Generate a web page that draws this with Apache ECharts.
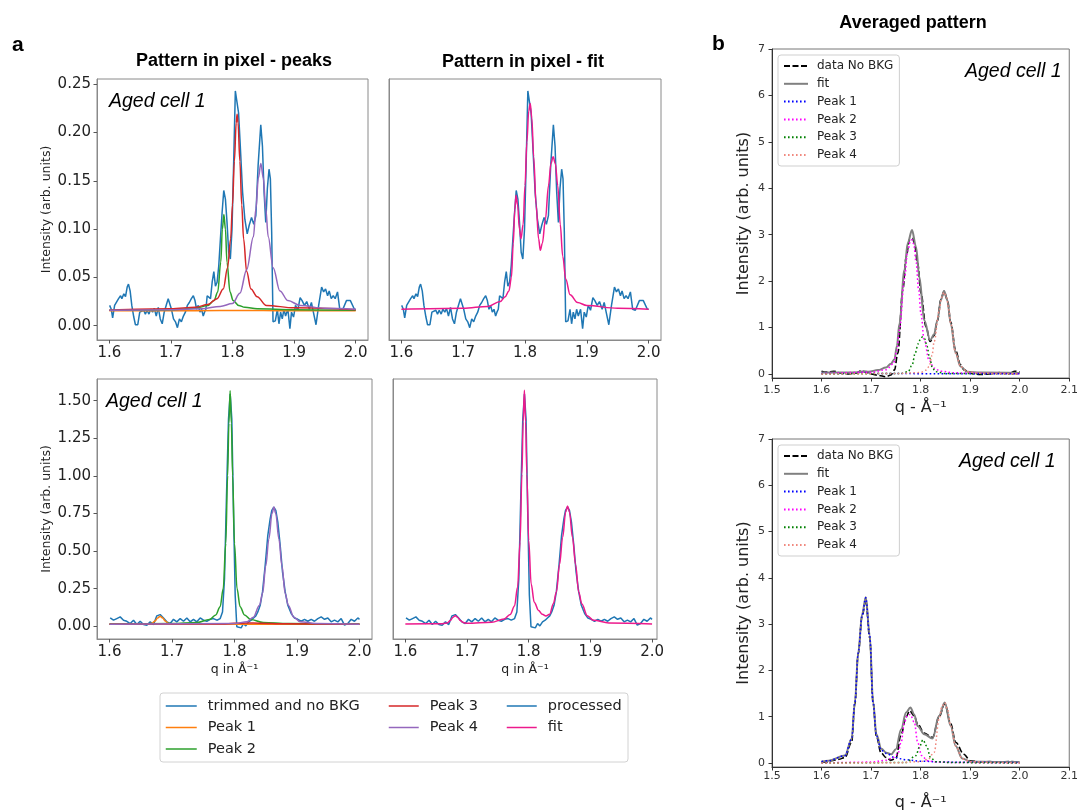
<!DOCTYPE html>
<html><head><meta charset="utf-8">
<script src="https://cdn.jsdelivr.net/npm/echarts/dist/echarts.min.js"></script>
<style>html,body{margin:0;padding:0;background:#fff}#c{width:1081px;height:812px}</style>
</head><body><div id="c"></div>
<script>
// ---------- Panel a, top row (Pattern in pixel) ----------
const qTop = [1.6005,1.6032,1.6054,1.6086,1.6118,1.6150,1.6183,1.6204,1.6236,1.6263,1.6290,1.6311,1.6338,1.6365,1.6397,1.6424,1.6462,1.6494,1.6526,1.6558,1.6585,1.6612,1.6644,1.6671,1.6703,1.6730,1.6762,1.6795,1.6827,1.6859,1.6891,1.6923,1.6956,1.6988,1.7009,1.7042,1.7074,1.7106,1.7138,1.7170,1.7203,1.7235,1.7267,1.7299,1.7332,1.7364,1.7391,1.7417,1.7444,1.7471,1.7498,1.7525,1.7546,1.7568,1.7589,1.7616,1.7643,1.7670,1.7697,1.7723,1.7750,1.7777,1.7804,1.7831,1.7858,1.7885,1.7911,1.7938,1.7965,1.7992,1.8019,1.8046,1.8078,1.8099,1.8121,1.8164,1.8201,1.8239,1.8271,1.8309,1.8346,1.8379,1.8416,1.8459,1.8486,1.8513,1.8540,1.8566,1.8593,1.8615,1.8636,1.8658,1.8695,1.8728,1.8754,1.8781,1.8808,1.8835,1.8862,1.8899,1.8932,1.8958,1.8991,1.9023,1.9060,1.9098,1.9130,1.9168,1.9205,1.9248,1.9281,1.9313,1.9356,1.9399,1.9447,1.9479,1.9511,1.9544,1.9570,1.9603,1.9635,1.9667,1.9705,1.9742,1.9785,1.9812,1.9850,1.9882,1.9914,1.9946,1.9979,2.0000];
const iTop = [0.021,0.017,0.008,0.021,0.019,0.028,0.031,0.028,0.033,0.030,0.040,0.043,0.036,0.021,0.009,0.001,0.001,0.014,0.012,0.016,0.012,0.016,0.012,0.017,0.014,0.018,0.010,0.019,0.007,0.002,0.014,0.021,0.028,0.030,0.017,0.007,0.004,-0.002,0.007,0.004,0.010,0.014,0.021,0.024,0.028,0.031,0.026,0.017,0.021,0.014,0.017,0.010,0.014,0.017,0.031,0.033,0.028,0.045,0.056,0.041,0.045,0.062,0.090,0.117,0.140,0.131,0.107,0.076,0.069,0.100,0.169,0.243,0.243,0.220,0.193,0.138,0.110,0.095,0.104,0.112,0.105,0.114,0.166,0.208,0.186,0.138,0.107,0.142,0.162,0.152,0.097,0.004,0.005,0.017,0.002,0.014,0.007,0.017,0.010,0.017,-0.003,0.014,0.009,0.021,0.016,0.029,0.026,0.021,0.025,0.017,0.024,0.014,0.001,0.021,0.040,0.035,0.038,0.031,0.036,0.028,0.031,0.028,0.035,0.017,0.016,0.014,0.026,0.024,0.026,0.024,0.017,0.017];

const qP1t = [1.60,1.70,1.78,1.80,1.85,1.90,2.00];
const iP1t = [0.0155,0.0155,0.0157,0.0158,0.0157,0.0155,0.0155];
const qP2t = [1.60,1.70,1.74,1.76,1.77,1.776,1.781,1.7835,1.786,1.7885,1.791,1.796,1.801,1.81,1.82,1.84,1.90,2.00];
const iP2t = [0.016,0.0165,0.018,0.021,0.026,0.035,0.066,0.100,0.115,0.100,0.066,0.035,0.026,0.021,0.019,0.0175,0.0165,0.016];
const qP3t = [1.60,1.70,1.74,1.76,1.775,1.785,1.792,1.797,1.80,1.803,1.806,1.8075,1.809,1.812,1.815,1.818,1.823,1.83,1.84,1.855,1.90,2.00];
const iP3t = [0.016,0.0175,0.019,0.022,0.028,0.038,0.060,0.090,0.125,0.170,0.210,0.219,0.210,0.170,0.125,0.090,0.056,0.038,0.030,0.021,0.0185,0.0165];
const qP4t = [1.60,1.70,1.75,1.78,1.80,1.812,1.823,1.834,1.838,1.842,1.846,1.850,1.854,1.858,1.866,1.877,1.89,1.91,1.95,2.00];
const iP4t = [0.016,0.0165,0.0175,0.020,0.023,0.0335,0.058,0.092,0.121,0.153,0.168,0.153,0.121,0.092,0.060,0.036,0.026,0.021,0.018,0.017];
const qFitT = [1.60,1.70,1.74,1.76,1.768,1.774,1.778,1.781,1.7835,1.7855,1.788,1.791,1.7935,1.797,1.80,1.803,1.806,1.8085,1.811,1.814,1.818,1.822,1.8248,1.828,1.833,1.838,1.842,1.8455,1.849,1.853,1.857,1.861,1.866,1.873,1.885,1.90,1.95,2.00];
const iFitT = [0.017,0.018,0.020,0.025,0.030,0.036,0.050,0.085,0.120,0.135,0.125,0.100,0.090,0.105,0.145,0.190,0.222,0.230,0.215,0.175,0.125,0.090,0.078,0.085,0.110,0.145,0.168,0.175,0.168,0.145,0.105,0.072,0.048,0.032,0.024,0.021,0.018,0.017];

// ---------- Panel a, bottom row ----------
const qBot = [1.6011,1.6064,1.6117,1.6171,1.6224,1.6277,1.6331,1.6384,1.6437,1.6491,1.6544,1.6597,1.6651,1.6704,1.6757,1.6811,1.6864,1.6917,1.6971,1.7024,1.7077,1.7131,1.7184,1.7237,1.7291,1.7344,1.7397,1.7451,1.7504,1.7557,1.7611,1.7664,1.7717,1.7771,1.7808,1.7840,1.7872,1.7904,1.7931,1.7957,1.7984,1.8011,1.8037,1.8064,1.8107,1.8144,1.8181,1.8224,1.8267,1.8304,1.8341,1.8373,1.8411,1.8448,1.8491,1.8533,1.8571,1.8597,1.8629,1.8661,1.8693,1.8731,1.8768,1.8811,1.8853,1.8907,1.8960,1.9013,1.9067,1.9120,1.9173,1.9227,1.9280,1.9333,1.9387,1.9440,1.9493,1.9547,1.9600,1.9653,1.9707,1.9760,1.9813,1.9867,1.9920,1.9973,2.0000];
const iBot = [0.055,0.040,0.051,0.062,0.040,0.033,0.018,0.040,0.011,0.033,0.011,0.007,0.029,0.011,0.069,0.077,0.055,0.029,0.018,0.046,0.029,0.051,0.033,0.055,0.029,0.046,0.029,0.055,0.040,0.033,0.046,0.051,0.040,0.051,0.095,0.316,0.869,1.378,1.544,1.378,0.759,0.206,-0.004,0.007,-0.011,0.018,0.002,0.029,0.040,0.055,0.069,0.095,0.139,0.228,0.405,0.604,0.715,0.770,0.792,0.770,0.692,0.538,0.361,0.228,0.139,0.084,0.055,0.046,0.033,0.046,0.033,0.046,0.033,0.051,0.062,0.046,0.055,0.029,0.040,0.029,0.051,0.007,0.018,0.046,0.033,0.055,0.046];

const qP1b = [1.60,1.66,1.668,1.673,1.677,1.681,1.685,1.689,1.694,1.70,2.00];
const iP1b = [0.013,0.014,0.020,0.035,0.055,0.066,0.055,0.035,0.020,0.014,0.013];
const qP2b = [1.60,1.70,1.74,1.76,1.77,1.777,1.782,1.786,1.789,1.791,1.793,1.795,1.797,1.800,1.804,1.809,1.816,1.826,1.846,1.886,2.00];
const iP2b = [0.014,0.018,0.025,0.045,0.075,0.13,0.25,0.55,1.00,1.35,1.566,1.35,1.00,0.55,0.25,0.13,0.075,0.045,0.025,0.018,0.014];
const qP3b = [1.60,1.78,1.80,1.82,1.84,1.88,2.00];
const iP3b = [0.013,0.015,0.019,0.022,0.020,0.016,0.013];
const qP4b = [1.60,1.80,1.82,1.83,1.84,1.845,1.85,1.855,1.86,1.863,1.866,1.871,1.876,1.881,1.886,1.895,1.905,1.93,2.00];
const iP4b = [0.013,0.018,0.030,0.060,0.140,0.220,0.400,0.580,0.750,0.792,0.750,0.580,0.400,0.220,0.140,0.060,0.030,0.018,0.013];
const qFitB = [1.60,1.66,1.668,1.673,1.677,1.681,1.685,1.689,1.694,1.70,1.74,1.76,1.77,1.777,1.782,1.786,1.789,1.791,1.793,1.795,1.797,1.800,1.804,1.809,1.816,1.822,1.828,1.834,1.84,1.845,1.85,1.855,1.86,1.863,1.866,1.871,1.876,1.881,1.886,1.895,1.905,1.93,2.00];
const iFitB = [0.015,0.017,0.022,0.038,0.058,0.070,0.058,0.038,0.024,0.019,0.026,0.048,0.078,0.135,0.26,0.56,1.01,1.36,1.57,1.36,1.01,0.57,0.28,0.16,0.105,0.080,0.068,0.080,0.15,0.23,0.41,0.59,0.76,0.80,0.76,0.59,0.41,0.23,0.15,0.07,0.04,0.022,0.015];

// ---------- Panel b, top (Averaged pattern) ----------
const q5Data = [1.60,1.61,1.625,1.64,1.655,1.67,1.68,1.69,1.70,1.715,1.73,1.74,1.7473,1.754,1.764,1.771,1.7773,1.784,1.7873,1.794,1.8007,1.8107,1.8193,1.827,1.834,1.8407,1.8473,1.854,1.8607,1.8707,1.8807,1.8873,1.90,1.92,1.94,1.96,1.98,1.99,2.00];
const i5Data = [0.06,0.04,0.06,0.02,0.0,0.02,0.07,0.04,0.0,-0.03,-0.06,-0.02,0.09,0.45,1.81,2.53,2.89,2.92,2.82,2.39,1.74,1.02,0.70,0.83,1.15,1.6,1.78,1.6,1.12,0.5,0.2,0.09,0.02,-0.01,0.0,0.03,0.02,0.06,0.04];
const q5Fit = [1.60,1.647,1.675,1.685,1.695,1.714,1.73,1.74,1.7473,1.752,1.7573,1.7673,1.774,1.7826,1.7907,1.7973,1.8073,1.8193,1.827,1.834,1.8407,1.8473,1.854,1.8607,1.8707,1.8807,1.894,1.92,2.00];
const i5Fit = [0.03,0.03,0.04,0.06,0.05,0.085,0.14,0.22,0.32,0.6,1.09,2.24,2.82,3.10,2.74,2.10,1.16,0.73,0.85,1.16,1.59,1.79,1.59,1.09,0.45,0.16,0.05,0.03,0.02];
const q5P1 = [1.60,1.65,1.675,1.685,1.695,1.72,1.80,1.90,2.00];
const i5P1 = [0.01,0.012,0.02,0.035,0.02,0.012,0.008,0.005,0.004];
const q5P2 = [1.60,1.70,1.73,1.745,1.752,1.7573,1.7673,1.774,1.779,1.782,1.786,1.791,1.796,1.8007,1.807,1.817,1.827,1.84,1.87,1.95,2.00];
const i5P2 = [0.005,0.04,0.09,0.22,0.5,0.95,2.05,2.65,2.85,2.89,2.8,2.4,1.8,1.3,0.75,0.3,0.13,0.06,0.025,0.01,0.005];
const q5P3 = [1.60,1.76,1.775,1.783,1.789,1.795,1.800,1.804,1.808,1.813,1.818,1.824,1.83,1.85,2.00];
const i5P3 = [0,0.01,0.05,0.2,0.45,0.65,0.76,0.80,0.76,0.6,0.35,0.13,0.05,0.01,0];
const q5P4 = [1.60,1.75,1.80,1.81,1.8173,1.823,1.8273,1.8373,1.8423,1.8473,1.8523,1.857,1.8607,1.8707,1.8807,1.894,1.92,2.00];
const i5P4 = [0,0.01,0.03,0.08,0.16,0.4,0.7,1.35,1.65,1.76,1.65,1.38,1.09,0.45,0.16,0.05,0.015,0];

// ---------- Panel b, bottom ----------
const q6Data = [1.60,1.61,1.62,1.635,1.6473,1.6607,1.6673,1.674,1.682,1.6893,1.6973,1.704,1.7107,1.72,1.73,1.74,1.75,1.7607,1.7707,1.778,1.787,1.794,1.8073,1.824,1.8373,1.8487,1.8607,1.8707,1.8873,1.90,1.92,1.94,1.96,1.98,2.00];
const i6Data = [0.03,0.02,0.05,0.08,0.12,0.45,1.28,2.36,3.18,3.52,2.70,1.30,0.58,0.22,0.12,0.06,0.10,0.62,1.0,1.13,1.02,0.84,0.65,0.55,1.0,1.28,0.85,0.45,0.19,0.05,0.02,0.03,0.02,0.03,0.02];
const q6Fit = [1.60,1.614,1.6473,1.6607,1.6673,1.674,1.682,1.6893,1.6973,1.704,1.7107,1.7207,1.7307,1.7407,1.75,1.7607,1.7707,1.7793,1.787,1.794,1.8073,1.824,1.8373,1.8487,1.8607,1.8707,1.884,1.9007,1.95,2.00];
const i6Fit = [0.03,0.05,0.16,0.52,1.31,2.38,3.22,3.58,2.76,1.33,0.62,0.31,0.22,0.19,0.30,0.73,1.09,1.20,1.05,0.80,0.62,0.53,1.02,1.31,0.80,0.37,0.10,0.03,0.02,0.02];
const q6P1 = [1.60,1.614,1.6473,1.6607,1.6673,1.674,1.682,1.6893,1.6973,1.704,1.7107,1.7207,1.734,1.747,1.77,1.80,1.85,1.90,2.00];
const i6P1 = [0.03,0.05,0.16,0.52,1.31,2.38,3.20,3.57,2.74,1.31,0.59,0.27,0.19,0.12,0.07,0.04,0.02,0.015,0.01];
const q6P2 = [1.60,1.70,1.73,1.745,1.754,1.7607,1.7673,1.773,1.779,1.7873,1.794,1.802,1.814,1.83,1.87,2.00];
const i6P2 = [0.0,0.02,0.06,0.12,0.19,0.45,0.88,1.02,1.05,0.88,0.45,0.16,0.05,0.02,0.01,0.0];
const q6P3 = [1.60,1.77,1.7907,1.7973,1.8047,1.812,1.82,1.83,1.86,2.00];
const i6P3 = [0,0.01,0.16,0.34,0.50,0.37,0.12,0.03,0.01,0];
const q6P4 = [1.60,1.75,1.80,1.815,1.8273,1.8373,1.843,1.8487,1.854,1.8607,1.8707,1.884,1.9007,1.95,2.00];
const i6P4 = [0,0.005,0.03,0.08,0.23,0.95,1.22,1.30,1.18,0.80,0.37,0.09,0.03,0.01,0];

// tick labels
const xTicksA = [1.6,1.7,1.8,1.9,2.0];
const yTicksTop = [0,0.05,0.10,0.15,0.20,0.25];
const yTicksBot = [0,0.25,0.5,0.75,1.0,1.25,1.5];
const xTicksB = [1.5,1.6,1.7,1.8,1.9,2.0,2.1];
const yTicksB = [0,1,2,3,4,5,6,7];

const pts = (xs, ys) => xs.slice(0, Math.min(xs.length, ys.length)).map((x, i) => [x, ys[i]]);

const C = {blue:'#1f77b4', orange:'#ff7f0e', green:'#2ca02c', red:'#d62728', purple:'#9467bd', fit:'#ec1a8c'};
const DV = '"DejaVu Sans", sans-serif';
const LS = '"Liberation Sans", Arial, sans-serif';

const grids = [
  {left:97, top:79, width:271, height:261},
  {left:389, top:79, width:272, height:261},
  {left:97, top:379, width:275, height:260},
  {left:393, top:379, width:264, height:260},
  {left:772, top:49, width:301, height:329},
  {left:772, top:439, width:301, height:329}
].map((g, i) => Object.assign({show:true, borderColor: i < 4 ? '#8a8a8a' : '#777', borderWidth:1, backgroundColor:'transparent', containLabel:false}, g));

function xAx(gi, min, max, ticks, dec, o) {
  o = o || {};
  return {
    type:'value', gridIndex:gi, min, max, splitLine:{show:false},
    axisLine:{show:true, onZero:false, lineStyle:{color:o.lc || '#8a8a8a', width:1}},
    axisTick:{show:true, length:3.5, customValues:ticks, lineStyle:{color:o.tc || '#555'}},
    axisLabel:{show:true, customValues:ticks, formatter:v => Number(v).toFixed(dec), fontSize:o.fs || 15, fontFamily:DV, color:o.col || '#222', margin:o.m == null ? 6 : o.m},
    name:o.name || '', nameLocation:'middle', nameGap:o.ng || 20,
    nameTextStyle:{fontSize:o.nfs || 12.5, fontFamily:DV, color:'#222'}
  };
}
function yAx(gi, min, max, ticks, dec, o) {
  o = o || {};
  const lab = o.labels !== false;
  return {
    type:'value', gridIndex:gi, min, max, splitLine:{show:false},
    axisLine:{show:true, onZero:false, lineStyle:{color:o.lc || '#8a8a8a', width:1}},
    axisTick:{show:lab, length:3.5, customValues:ticks, lineStyle:{color:o.tc || '#555'}},
    axisLabel:{show:lab, customValues:ticks, formatter:v => Number(v).toFixed(dec), fontSize:o.fs || 15, fontFamily:DV, color:o.col || '#222', margin:o.m == null ? 6 : o.m},
    name:o.name || '', nameLocation:'middle', nameGap:o.ng || 40,
    nameTextStyle:{fontSize:o.nfs || 12.5, fontFamily:DV, color:'#222'}
  };
}

const xAxis = [
  xAx(0, 1.58, 2.02, xTicksA, 1),
  xAx(1, 1.58, 2.02, xTicksA, 1),
  xAx(2, 1.58, 2.02, xTicksA, 1, {name:'q in Å⁻¹', ng:24}),
  xAx(3, 1.58, 2.008, xTicksA, 1, {name:'q in Å⁻¹', ng:24}),
  xAx(4, 1.5, 2.1, xTicksB, 1, {fs:11, col:'#333', lc:'#333', tc:'#333', m:7, name:'q - Å⁻¹', ng:22, nfs:16}),
  xAx(5, 1.5, 2.1, xTicksB, 1, {fs:11, col:'#333', lc:'#333', tc:'#333', m:4, name:'q - Å⁻¹', ng:28, nfs:16})
];
const yAxis = [
  yAx(0, -0.0148, 0.2554, yTicksTop, 2, {name:'Intensity (arb. units)', ng:43}),
  yAx(1, -0.0148, 0.2554, yTicksTop, 2, {labels:false}),
  yAx(2, -0.085, 1.644, yTicksBot, 2, {name:'Intensity (arb. units)', ng:43}),
  yAx(3, -0.085, 1.644, yTicksBot, 2, {labels:false}),
  yAx(4, -0.086, 7, yTicksB, 0, {fs:11, col:'#333', lc:'#333', tc:'#333', m:7, name:'Intensity (arb. units)', ng:20, nfs:16}),
  yAx(5, -0.086, 7, yTicksB, 0, {fs:11, col:'#333', lc:'#333', tc:'#333', m:7, name:'Intensity (arb. units)', ng:20, nfs:16})
];

const series = [];
function add(name, gi, xs, ys, color, width, type, smooth) {
  series.push({
    name, type:'line', xAxisIndex:gi, yAxisIndex:gi, data:pts(xs, ys),
    symbol:'none', showSymbol:false, color,
    smooth: smooth ? 0.35 : false, smoothMonotone: smooth ? 'x' : undefined,
    lineStyle:{color, width, type:type || 'solid'},
    emphasis:{disabled:true}, silent:true, animation:false
  });
}
// top-left
add('trimmed and no BKG', 0, qTop, iTop, C.blue, 1.5);
add('Peak 1', 0, qP1t, iP1t, C.orange, 1.5, null, true);
add('Peak 2', 0, qP2t, iP2t, C.green, 1.5, null, true);
add('Peak 3', 0, qP3t, iP3t, C.red, 1.5, null, true);
add('Peak 4', 0, qP4t, iP4t, C.purple, 1.5, null, true);
// top-right
add('processed', 1, qTop, iTop, C.blue, 1.5);
add('fit', 1, qFitT, iFitT, C.fit, 1.5, null, true);
// bottom-left
add('trimmed and no BKG', 2, qBot, iBot, C.blue, 1.5);
add('Peak 1', 2, qP1b, iP1b, C.orange, 1.5, null, true);
add('Peak 2', 2, qP2b, iP2b, C.green, 1.5, null, true);
add('Peak 3', 2, qP3b, iP3b, C.red, 1.5, null, true);
add('Peak 4', 2, qP4b, iP4b, C.purple, 1.5, null, true);
// bottom-right
add('processed', 3, qBot, iBot, C.blue, 1.5);
add('fit', 3, qFitB, iFitB, C.fit, 1.5, null, true);
// panel b
const DASH = [6, 2.5], DOT = [1.6, 2.4];
add('b-data No BKG', 4, q5Data, i5Data, '#000', 1.6, DASH, true);
add('b-fit', 4, q5Fit, i5Fit, '#808080', 2, null, true);
add('b-Peak 1', 4, q5P1, i5P1, '#0000ff', 1.5, DOT, true);
add('b-Peak 2', 4, q5P2, i5P2, '#ff00ff', 1.5, DOT, true);
add('b-Peak 3', 4, q5P3, i5P3, '#008000', 1.5, DOT, true);
add('b-Peak 4', 4, q5P4, i5P4, '#f08a80', 1.5, DOT, true);
add('b-data No BKG', 5, q6Data, i6Data, '#000', 1.6, DASH, true);
add('b-fit', 5, q6Fit, i6Fit, '#808080', 2, null, true);
add('b-Peak 1', 5, q6P1, i6P1, '#0000ff', 1.5, DOT, true);
add('b-Peak 2', 5, q6P2, i6P2, '#ff00ff', 1.5, DOT, true);
add('b-Peak 3', 5, q6P3, i6P3, '#008000', 1.5, DOT, true);
add('b-Peak 4', 5, q6P4, i6P4, '#f08a80', 1.5, DOT, true);

const legA = (data, left, iw) => ({
  data, orient:'vertical', left, top:698.5, padding:0, itemWidth:iw, itemHeight:15, itemGap:6.5,
  selectedMode:false, itemStyle:{opacity:0}, lineStyle:{width:1.5},
  textStyle:{fontSize:14.5, fontFamily:DV, color:'#222', padding:[0,0,0,6]}
});
const bNames = ['b-data No BKG','b-fit','b-Peak 1','b-Peak 2','b-Peak 3','b-Peak 4'];
const legB = (top) => ({
  data:bNames, orient:'vertical', left:778, top, padding:[5,6,5,5], itemWidth:24, itemHeight:12, itemGap:5.8,
  selectedMode:false, backgroundColor:'rgba(255,255,255,0.85)', borderColor:'#cfcfcf', borderWidth:1, borderRadius:3,
  itemStyle:{opacity:0},
  formatter:n => n.replace(/^b-/, ''),
  textStyle:{fontSize:12, fontFamily:DV, color:'#222', padding:[0,0,0,4]}
});

const txt = (x, y, text, font, align) => ({type:'text', x, y, z:10, style:{text, font, fill:'#000', textAlign:align || 'left', textVerticalAlign:'middle'}});

const option = {
  animation:false,
  backgroundColor:'#fff',
  grid:grids, xAxis, yAxis, series,
  legend:[
    legA(['trimmed and no BKG','Peak 1','Peak 2'], 165, 31),
    legA(['Peak 3','Peak 4'], 388, 30),
    legA(['processed','fit'], 506, 30),
    legB(55), legB(445)
  ],
  graphic:[
    {type:'rect', z:0, shape:{x:160, y:693, width:468, height:69, r:3}, style:{fill:'#fff', stroke:'#d2d2d2', lineWidth:1}},
    txt(12, 45, 'a', 'bold 21px ' + LS),
    txt(712, 44, 'b', 'bold 21px ' + LS),
    txt(234, 61, 'Pattern in pixel - peaks', 'bold 18px ' + LS, 'center'),
    txt(523, 62, 'Pattern in pixel - fit', 'bold 18px ' + LS, 'center'),
    txt(913, 23, 'Averaged pattern', 'bold 18px ' + LS, 'center'),
    txt(109, 102, 'Aged cell 1', 'italic 19.5px ' + LS),
    txt(106, 402, 'Aged cell 1', 'italic 19.5px ' + LS),
    txt(965, 72, 'Aged cell 1', 'italic 19.5px ' + LS),
    txt(959, 462, 'Aged cell 1', 'italic 19.5px ' + LS)
  ]
};
const chart = echarts.init(document.getElementById('c'), null, {renderer:'canvas'});
chart.setOption(option);
</script>
</body></html>
